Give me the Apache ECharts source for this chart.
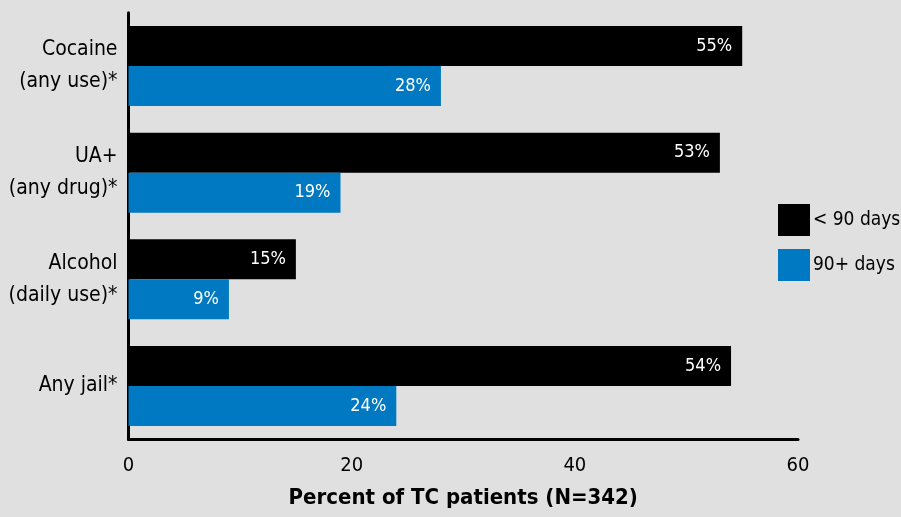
<!DOCTYPE html>
<html><head><meta charset="utf-8">
<script src="https://cdn.jsdelivr.net/npm/echarts@6/dist/echarts.min.js"></script>
<style>html,body{margin:0;padding:0;background:#e0e0e0}#c{width:901px;height:517px}</style>
</head><body><div id="c"></div>
<script>
const categories = ['Cocaine\n(any use)*', 'UA+\n(any drug)*', 'Alcohol\n(daily use)*', 'Any jail*'];
const seriesNames = ['< 90 days', '90+ days'];
const under90 = [55, 53, 15, 54];
const over90 = [28, 19, 9, 24];
const xTicks = { min: 0, max: 60, interval: 20 };
const axisTitle = 'Percent of TC patients (N=342)';

const FONT = '"Liberation Sans Narrow", "DejaVu Sans Condensed", "Roboto Condensed", sans-serif';
const chart = echarts.init(document.getElementById('c'), null, { renderer: 'canvas' });
const lbl = {
  show: true, position: 'insideRight', distance: 10, color: '#fff',
  fontFamily: FONT, fontSize: 18, formatter: p => p.value + '%'
};
chart.setOption({
  backgroundColor: '#e0e0e0',
  animation: false,
  grid: { left: 128.5, right: 103, top: 12.7, bottom: 77.7, containLabel: false, outerBoundsMode: 'none' },
  legend: {
    orient: 'vertical', left: 773, top: 199, itemWidth: 32, itemHeight: 32, itemGap: 13,
    icon: 'rect',
    textStyle: { fontFamily: FONT, fontSize: 19, color: '#000', padding: [0, 0, 0, -2] },
    data: seriesNames
  },
  xAxis: {
    type: 'value', min: xTicks.min, max: xTicks.max, interval: xTicks.interval,
    name: axisTitle, nameLocation: 'middle', nameGap: 48,
    nameTextStyle: { fontFamily: FONT, fontSize: 22, fontWeight: 'bold', color: '#000' },
    axisLine: { show: true, lineStyle: { color: '#000', width: 3 } },
    axisTick: { show: false }, splitLine: { show: false },
    axisLabel: { fontFamily: FONT, fontSize: 20, color: '#000', margin: 16 }
  },
  yAxis: {
    type: 'category', data: categories, inverse: true,
    axisLine: { show: true, lineStyle: { color: '#000', width: 3 } },
    axisTick: { show: false },
    axisLabel: { fontFamily: FONT, fontSize: 21, color: '#000', margin: 11, lineHeight: 32, align: 'right', padding: [5, 0, 0, 0] }
  },
  series: [
    { name: seriesNames[0], type: 'bar', data: under90, barWidth: 40, barGap: '0%',
      itemStyle: { color: '#000' }, label: lbl },
    { name: seriesNames[1], type: 'bar', data: over90, barWidth: 40, barGap: '0%',
      itemStyle: { color: '#0079c2' }, label: lbl }
  ]
});
</script></body></html>
